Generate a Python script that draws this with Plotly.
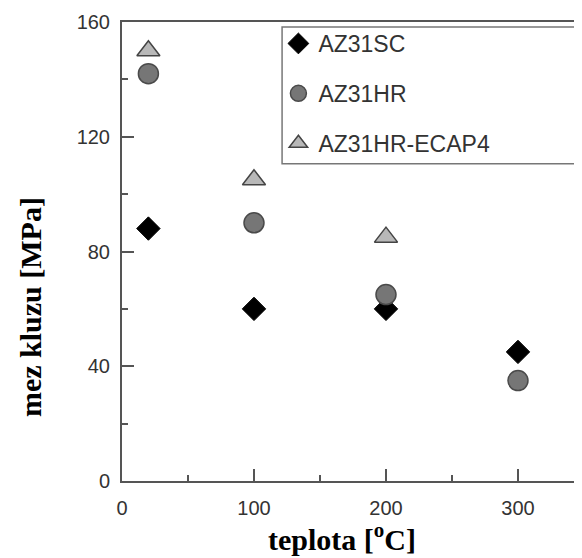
import plotly.graph_objects as go

temp_sc = [20, 100, 200, 300]
ys_sc = [88, 60, 60, 45]
temp_hr = [20, 100, 200, 300]
ys_hr = [142, 90, 65, 35]
temp_ecap = [20, 100, 200]
ys_ecap = [150, 105, 85]

names = ["AZ31SC", "AZ31HR", "AZ31HR-ECAP4"]
x_title = "teplota [<sup>o</sup>C]"
y_title = "mez kluzu [MPa]"

fig = go.Figure()
fig.add_trace(go.Scatter(x=temp_sc, y=ys_sc, mode="markers", name=names[0], legendgroup="a",
                         marker=dict(symbol="diamond", size=18, color="black",
                                     line=dict(color="black", width=1))))
fig.add_trace(go.Scatter(x=temp_hr, y=ys_hr, mode="markers", name=names[1], legendgroup="b",
                         marker=dict(symbol="circle", size=20, color="#767676",
                                     line=dict(color="#4a4a4a", width=1.5))))
fig.add_trace(go.Scatter(x=temp_ecap, y=ys_ecap, mode="markers", name=names[2], legendgroup="c",
                         marker=dict(symbol="triangle-up", size=20, color="#b8b8b8",
                                     line=dict(color="#444444", width=1.5))))

axis_common = dict(showline=True, linecolor="#555555", linewidth=2, showgrid=False, zeroline=False,
                   ticks="inside", tickcolor="#555555", tickwidth=1.5, ticklen=12,
                   tickfont=dict(family="Liberation Sans, Arial", size=20, color="#333333"))

fig.update_layout(
    width=574, height=550,
    margin=dict(l=114, r=0, t=14, b=77),
    paper_bgcolor="white", plot_bgcolor="white",
    showlegend=True,
    legend=dict(x=0.34, y=1.0, xanchor="left", yanchor="top",
                borderwidth=0, bgcolor="rgba(0,0,0,0)",
                font=dict(family="Liberation Sans, Arial", size=23, color="#333333"),
                traceorder="grouped", tracegroupgap=17),
    xaxis=dict(range=[0, 348.5], tickvals=[0, 100, 200, 300], mirror=True,
               minor=dict(tickvals=[50, 150, 250], ticks="inside", ticklen=6, tickcolor="#555555"),
               ticklabelstandoff=8, **axis_common),
    yaxis=dict(range=[0, 160], tickvals=[0, 40, 80, 120, 160],
               minor=dict(tickvals=[20, 60, 100, 140], ticks="inside", ticklen=6, tickcolor="#555555"),
               ticklabelstandoff=6, **axis_common),
    shapes=[dict(type="rect", xref="paper", yref="paper", x0=0.348, x1=1.05, y0=0.691, y1=0.989,
                 line=dict(color="#777777", width=1.5), fillcolor="rgba(0,0,0,0)", layer="above")],
    annotations=[
        dict(text=f"<b>{y_title}</b>", textangle=-90, xref="paper", yref="paper",
             x=-0.2, y=0.379, xanchor="center", yanchor="middle", showarrow=False,
             font=dict(family="Liberation Serif, Times New Roman", size=30, color="black")),
        dict(text=f"<b>{x_title}</b>", xref="paper", yref="paper",
             x=0.478, y=-0.123, xanchor="center", yanchor="middle", showarrow=False,
             font=dict(family="Liberation Serif, Times New Roman", size=30, color="black")),
    ],
)

fig.write_html("out.html")
